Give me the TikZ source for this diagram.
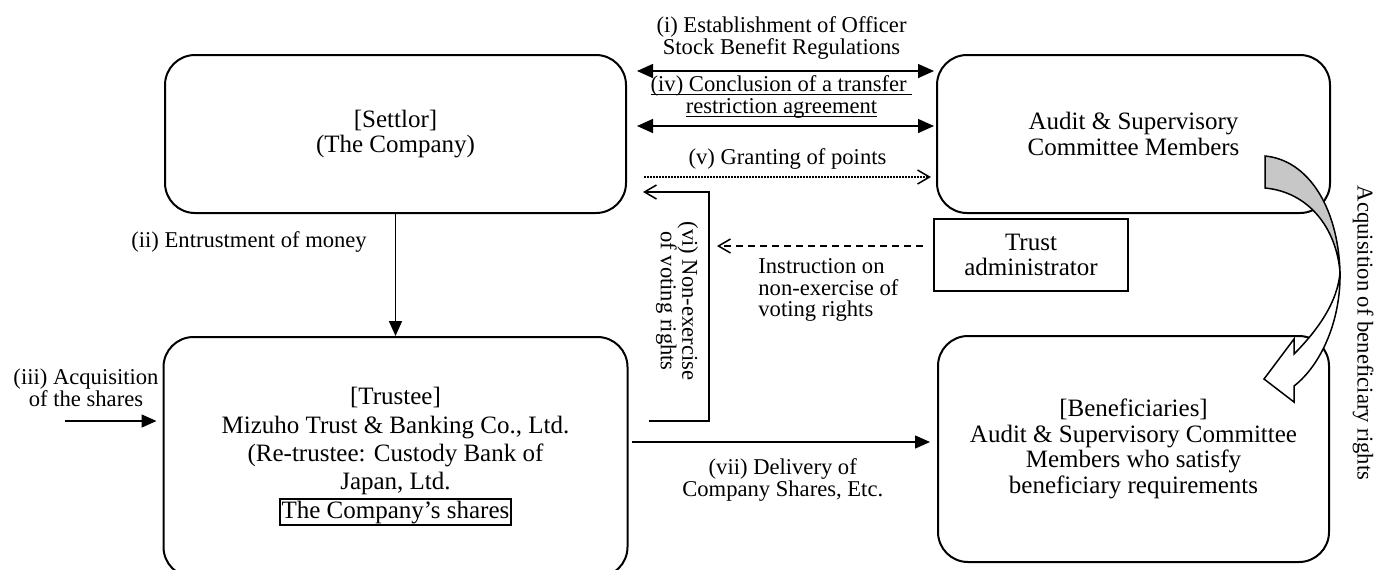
\documentclass[tikz,border=0pt]{standalone}
\usepackage{fontspec}
\setmainfont{Liberation Serif}
\usepackage{tikz}
\usetikzlibrary{arrows.meta,positioning,calc}

\newcommand{\boxfont}{\fontsize{12.5}{12.75}\selectfont}
\newcommand{\lblfont}{\fontsize{11.3}{10.85}\selectfont}
% underline sitting close to the baseline
\newcommand{\ulinetext}[1]{\underline{\raisebox{0pt}[\height][0pt]{#1}}}
\setlength{\fboxsep}{0.5pt}
\setlength{\fboxrule}{1pt}

\tikzset{
  partybox/.style={rectangle,rounded corners=15pt,draw=black,line width=1pt,align=center,font=\boxfont},
  adminbox/.style={rectangle,draw=black,line width=1pt,align=center,font=\boxfont,minimum width=97pt,minimum height=36pt},
  lbl/.style={inner sep=0pt,align=center,font=\lblfont},
  arr/.style={-{Triangle[length=7.5pt,width=6.5pt]},line width=0.75pt},
  dblarr/.style={{Triangle[length=8pt,width=7pt]}-{Triangle[length=8pt,width=7pt]},line width=0.75pt},
  openarr/.style={-{Straight Barb[length=6pt,width=7pt]},line width=0.75pt},
  dotarr/.style={openarr,dash pattern=on 0.75pt off 0.75pt},
  dasharr/.style={openarr,dash pattern=on 3.5pt off 2.5pt},
  ribbon/.style={line width=0.75pt,draw=black}
}

\begin{document}
\begin{tikzpicture}[x=0.5pt,y=-0.5pt]
  \useasboundingbox (0,0) rectangle (1375,569);

  % parties
  \node[partybox,minimum width=230.5pt,minimum height=79pt] (settlor) at (395.5,134) {[Settlor]\\(The Company)};
  \node[partybox,minimum width=196.5pt,minimum height=79pt,right=154.5pt of settlor] (audit) {Audit \& Supervisory\\Committee Members};
  \node[partybox,minimum width=232pt,minimum height=120pt,below=61pt of settlor,
        font={\fontsize{12.5}{14.15}\selectfont}] (trustee)
        {[Trustee]\\Mizuho Trust \& Banking Co., Ltd.\\(Re-trustee: Custody Bank of\\Japan, Ltd.\\\fbox{The Company’s shares}};
  \node[partybox,minimum width=195.5pt,minimum height=113pt,below=60.5pt of audit] (benef)
        {[Beneficiaries]\\Audit \& Supervisory Committee\\Members who satisfy\\beneficiary requirements};
  \node[adminbox,below right=2pt and -1.5pt of audit.south west] (admin) {Trust\\administrator};

  % levels of the horizontal connectors
  \coordinate (yi) at (0,71);
  \coordinate (yiv) at (0,126);
  \coordinate (yv) at (0,177);
  \coordinate (yvi) at (709,192);
  \coordinate (yvib) at (709,421);
  \coordinate (yinstr) at (0,246);
  \coordinate (yvii) at (0,442);
  \coordinate (buystart) at (65,421);

  \draw[dblarr,shorten <=5pt,shorten >=1pt] (settlor.east |- yi) -- (audit.west |- yi)
      node[lbl,midway,above=5.5pt] (estlbl) {(i) Establishment of Officer\\Stock Benefit Regulations};
  \draw[dblarr,shorten <=5pt,shorten >=1pt] (settlor.east |- yiv) -- (audit.west |- yiv)
      node[lbl,midway,above=4pt] (agrlbl) {\ulinetext{(iv) Conclusion of a transfer\ }\\\ulinetext{restriction agreement}};
  \draw[dotarr,shorten <=8.5pt,shorten >=2.5pt] (settlor.east |- yv) -- (audit.west |- yv)
      node[lbl,midway,above=3.5pt,xshift=3pt] (ptslbl) {(v) Granting of points};

  \draw[arr] (settlor.south) -- (trustee.north)
      node[lbl,pos=0.23,left=14pt] (moneylbl) {(ii) Entrustment of money};
  \draw[arr,shorten >=3pt] (buystart) -- (trustee.west |- buystart);
  \node[lbl] (buylbl) at (86,388) {(iii) Acquisition\\of the shares};

  \draw[openarr,shorten <=10pt,shorten >=8pt] (trustee.east |- yvib) -- (yvib) -- (yvi) -- (settlor.east |- yvi);
  \node[lbl,rotate=-90] (vilbl) at (677,301) {(vi) Non-exercise\\of voting rights};

  \draw[dasharr,shorten <=5pt,shorten >=4pt] (admin.west |- yinstr) -- (yvi |- yinstr);
  \node[lbl,align=left,anchor=north west] (instrlbl) at ($(yvi |- yinstr)+(49,12)$)
      {Instruction on\\non-exercise of\\voting rights};

  \draw[arr,shorten <=1.5pt,shorten >=3.5pt] (trustee.east |- yvii) -- (benef.west |- yvii)
      node[lbl,midway,below=8pt] (delivlbl) {(vii) Delivery of\\Company Shares, Etc.};

  % twisted ribbon arrow from the members to the beneficiaries
  \coordinate (ribtail) at ($(audit.south east)+(-66,-58)$);
  \coordinate (ribtwist) at ($(audit.south east)+(9,58)$);
  \coordinate (ribtip) at ($(benef.north east)+(-66,44)$);
  \filldraw[ribbon,fill=black!22] (ribtail) .. controls +(43,4) and +(-2,-65) .. (ribtwist)
      .. controls +(-4,-45) and +(43,4) .. ($(ribtail)+(0,32)$) -- cycle;
  \filldraw[ribbon,fill=white] (ribtwist) .. controls +(1,50) and +(26,-20) .. ($(ribtip)+(30,7)$)
      -- ++(0,16) -- (ribtip) -- ++(30,-40) -- ++(0,15)
      .. controls +(23,-23) and +(-2,30) .. (ribtwist) -- cycle;
  \node[lbl,rotate=-90] (acqlbl) at (1363,333) {Acquisition of beneficiary rights};
\end{tikzpicture}
\end{document}
